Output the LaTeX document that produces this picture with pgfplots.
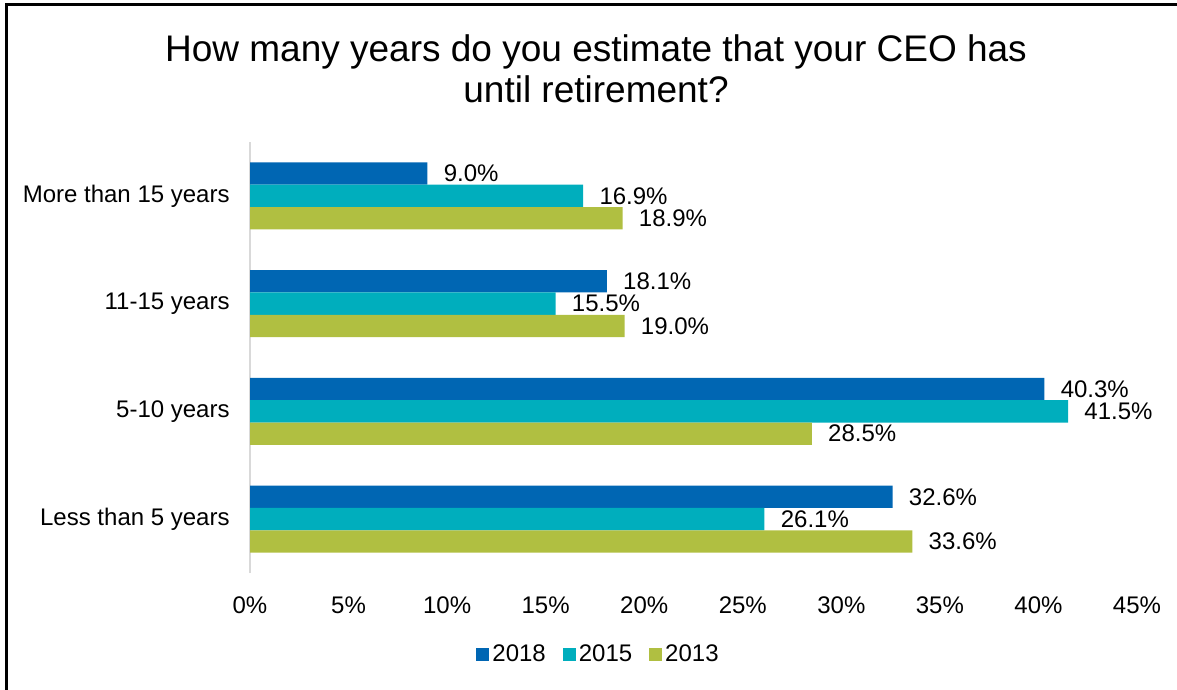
\documentclass[border=0pt]{standalone}
\usepackage{pgfplots}
\pgfplotsset{compat=1.18}
\usepackage{fontspec}
\setmainfont{Liberation Sans}
\definecolor{c2018}{HTML}{0066B3}
\definecolor{c2015}{HTML}{00AEBD}
\definecolor{c2013}{HTML}{B0BF41}
\definecolor{axgray}{HTML}{D9D9D9}
\begin{document}
\begin{tikzpicture}[x=0.5pt,y=0.5pt]
\useasboundingbox (0,0) rectangle (1177,690);
\draw[line width=1.5pt] (6,-5) -- (6,685) -- (1185,685);
\node[anchor=base,font=\fontsize{18.5}{20.5}\selectfont] at (596,628.5) {How many years do you estimate that your CEO has};
\node[anchor=base,font=\fontsize{18.5}{20.5}\selectfont] at (596,587) {until retirement?};
\begin{axis}[
  at={(125pt,58.5pt)}, anchor=south west,
  scale only axis, width=443.5pt, height=215.5pt,
  xbar, xmin=0, xmax=45, ymin=-0.5, ymax=3.5,
  bar width=0.207,
  /pgf/number format/assume math mode=true,
  axis y line*=left, axis x line*=bottom,
  x axis line style={draw=none},
  y axis line style={draw=axgray, line width=0.9pt},
  major tick length=0pt,
  xtick={0,5,...,45},
  xticklabels={0\%,5\%,10\%,15\%,20\%,25\%,30\%,35\%,40\%,45\%},
  ytick={0,1,2,3},
  yticklabels={Less than 5 years,5-10 years,11-15 years,More than 15 years},
  tick label style={font=\fontsize{12}{14}\selectfont, text=black},
  xticklabel style={anchor=center, yshift=-16pt},
  yticklabel style={anchor=east, inner sep=0pt, xshift=-10pt},
  nodes near coords={\pgfmathprintnumber[fixed,fixed zerofill,precision=1,assume math mode=true]{\pgfplotspointmeta}\%},
  every node near coord/.append style={anchor=west, inner sep=0pt, xshift=8pt, font=\fontsize{12}{14}\selectfont, text=black},
  legend columns=3,
  legend style={at={(axis description cs:0.3935,-0.190)}, anchor=center, draw=none, fill=none, inner sep=0pt,
    font=\fontsize{12}{14}\selectfont,
    nodes={inner sep=1.5pt},
    /tikz/every even column/.append style={column sep=7pt}},
  legend image code/.code={\fill[#1,draw=none] (0pt,-3.25pt) rectangle (6.5pt,3.25pt);},
]
\addplot[fill=c2018, draw=none, bar shift=0.207] coordinates {(32.6,0) (40.3,1) (18.1,2) (9.0,3)};
\addplot[fill=c2015, draw=none, bar shift=0] coordinates {(26.1,0) (41.5,1) (15.5,2) (16.9,3)};
\addplot[fill=c2013, draw=none, bar shift=-0.207] coordinates {(33.6,0) (28.5,1) (19.0,2) (18.9,3)};
\legend{2018,2015,2013}
\end{axis}
\end{tikzpicture}
\end{document}
